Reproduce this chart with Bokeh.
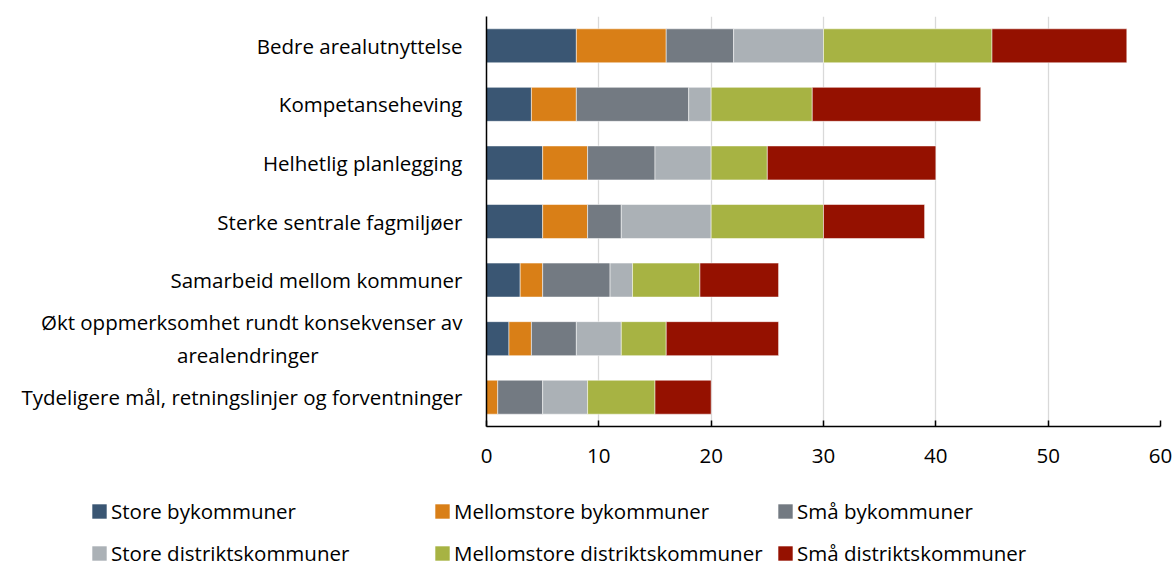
from bokeh.plotting import figure
from bokeh.layouts import column
from bokeh.models import (ColumnDataSource, FactorRange, Range1d, FixedTicker,
                          Legend, LegendItem)
from bokeh.embed import file_html
from bokeh.resources import INLINE

NBSP = "\u00a0"
categories = [
    "Bedre arealutnyttelse",
    "Kompetanseheving",
    "Helhetlig planlegging",
    "Sterke sentrale fagmiljøer",
    "Samarbeid mellom kommuner",
    "Økt oppmerksomhet rundt konsekvenser av\narealendringer" + NBSP * 27,
    "Tydeligere mål, retningslinjer og forventninger",
]
series = ["Store bykommuner", "Mellomstore bykommuner", "Små bykommuner",
          "Store distriktskommuner", "Mellomstore distriktskommuner", "Små distriktskommuner"]
store_by = [8, 4, 5, 5, 3, 2, 0]
mellomstore_by = [8, 4, 4, 4, 2, 2, 1]
sma_by = [6, 10, 6, 3, 6, 4, 4]
store_distrikt = [8, 2, 5, 8, 2, 4, 4]
mellomstore_distrikt = [15, 9, 5, 10, 6, 4, 6]
sma_distrikt = [12, 15, 15, 9, 7, 10, 5]
x_ticks = [0, 10, 20, 30, 40, 50, 60]

colors = ["#3a5673", "#d97f17", "#737a82", "#abb1b6", "#a7b343", "#951100"]
FONT = "Open Sans"
FS = "20.5px"

keys = ["s0", "s1", "s2", "s3", "s4", "s5"]
source = ColumnDataSource(dict(
    cat=categories,
    s0=store_by, s1=mellomstore_by, s2=sma_by,
    s3=store_distrikt, s4=mellomstore_distrikt, s5=sma_distrikt,
))

p = figure(width=1176, height=480, output_backend="svg", toolbar_location=None,
           y_range=FactorRange(factors=list(reversed(categories))),
           x_range=Range1d(0, 60),
           min_border_left=486, min_border_right=16, min_border_top=16,
           min_border_bottom=54)
p.outline_line_color = None

p.hbar_stack(keys, y="cat", height=0.58, color=colors, source=source,
             line_color="white", line_alpha=0.5, line_width=1)

p.xaxis.ticker = FixedTicker(ticks=x_ticks)
p.xgrid.ticker = FixedTicker(ticks=x_ticks)
p.xgrid.grid_line_color = "#d9d9d9"
p.xgrid.grid_line_width = 1.3
p.ygrid.grid_line_color = None

p.xaxis.axis_line_color = "black"
p.xaxis.axis_line_width = 1.5
p.xaxis.major_tick_in = 6
p.xaxis.major_tick_out = 0
p.xaxis.major_tick_line_color = "black"
p.xaxis.major_tick_line_width = 1.5
p.xaxis.minor_tick_line_color = None
p.xaxis.major_label_standoff = 22
p.xaxis.major_label_text_font = FONT
p.xaxis.major_label_text_font_size = FS
p.xaxis.major_label_text_color = "black"

p.yaxis.axis_line_color = "black"
p.yaxis.axis_line_width = 1.5
p.yaxis.major_tick_line_color = None
p.yaxis.minor_tick_line_color = None
p.yaxis.major_label_standoff = 18
p.yaxis.major_label_text_font = FONT
p.yaxis.major_label_text_font_size = FS
p.yaxis.major_label_text_color = "black"

# legend strip below the chart (same stacked data, kept outside its visible range)
leg = figure(width=1176, height=87, output_backend="svg", toolbar_location=None,
             x_axis_location=None, y_axis_location=None,
             x_range=Range1d(-130, -70), y_range=FactorRange(factors=categories),
             min_border=0)
leg.outline_line_color = None
leg.grid.grid_line_color = None
leg_renderers = leg.hbar_stack(keys, y="cat", height=0.58, color=colors, source=source,
                               line_color=None)

for fig in (p, leg):
    if "frame_align" in fig.properties():
        fig.frame_align = False

row_y = [42, 0]
for r in range(2):
    items = [LegendItem(label=series[r * 3 + c], renderers=[leg_renderers[r * 3 + c]])
             for c in range(3)]
    lg = Legend(items=items, location=(90, row_y[r]), orientation="horizontal",
                glyph_width=18, glyph_height=18, label_height=18, label_width=318,
                spacing=4, label_standoff=3, padding=0, margin=0,
                border_line_color=None, background_fill_alpha=0,
                label_text_font=FONT, label_text_font_size=FS,
                label_text_color="black")
    leg.add_layout(lg, "center")

layout = column(p, leg, spacing=0)
open("out.html", "w").write(file_html(layout, INLINE))
